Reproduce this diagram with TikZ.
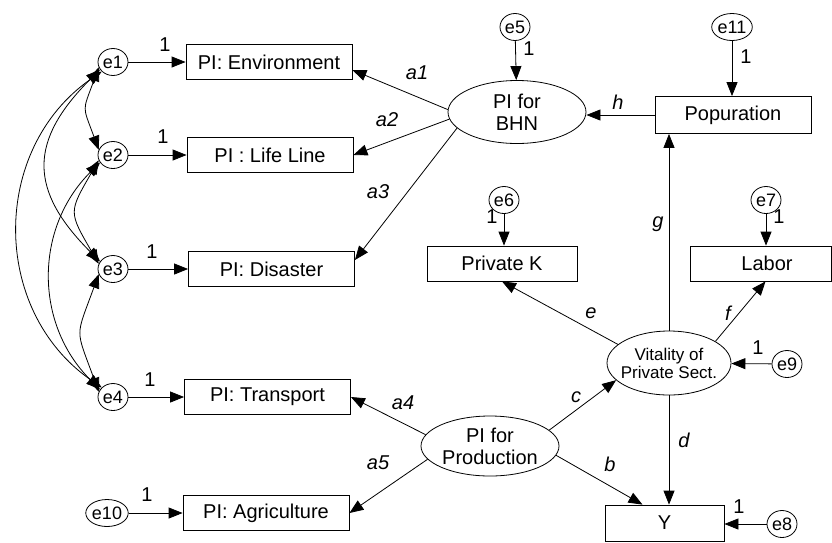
\documentclass[tikz,border=0pt]{standalone}
\usepackage{fontspec}
\setmainfont{Liberation Sans}
\usetikzlibrary{arrows.meta,calc,shapes.geometric}
\begin{document}
\begin{tikzpicture}[x=1pt,y=1pt,
  box/.style={draw, line width=0.8pt, minimum width=166pt, minimum height=35pt, inner sep=0pt, font=\fontsize{20}{22}\selectfont},
  lat/.style={draw, ellipse, line width=0.8pt, inner sep=0pt, align=center, font=\fontsize{20}{22}\selectfont},
  err/.style={draw, ellipse, line width=0.8pt, minimum width=30pt, minimum height=27pt, inner sep=0pt, font=\fontsize{18}{18}\selectfont},
  arr/.style={line width=0.8pt, -{Triangle[length=14pt,width=11pt]}},
  cov/.style={line width=0.8pt, {Triangle[length=14pt,width=11pt]}-{Triangle[length=14pt,width=11pt]}},
  one/.style={font=\fontsize{20}{20}\selectfont, inner sep=0pt},
  par/.style={font=\fontsize{20}{20}\selectfont\itshape, inner sep=0pt}
]
\useasboundingbox (0,0) rectangle (832,-542);

% observed boxes
\node[box] (env) at (269,-62) {PI: Environment};
\node[box] (life) at (270,-155) {PI : Life Line};
\node[box] (dis) at (271.5,-269) {PI: Disaster};
\node[box] (trans) at (267.5,-397) {PI: Transport};
\node[box] (agri) at (266,-513) {PI: Agriculture};
\node[box, minimum width=156pt, minimum height=37pt] (pop) at (733,-115) {Popuration};
\node[box, minimum width=150pt] (pk) at (502,-263.5) {Private K};
\node[box, minimum width=141pt] (labor) at (760.5,-263.5) {\hspace*{13pt}Labor};
\node[box, minimum width=119pt, minimum height=36pt] (y) at (664.5,-523) {Y};

% latent ellipses
\node[lat, minimum width=138pt, minimum height=63pt] (bhn) at (517,-112) {PI for\\BHN};
\node[lat, minimum width=124pt, minimum height=64pt, inner xsep=-7pt, font=\fontsize{17}{18}\selectfont] (vit) at (669,-363) {Vitality of\\Private Sect.};
\node[lat, minimum width=138pt, minimum height=60pt, inner xsep=-2pt] (prod) at (490,-446) {PI for\\Production};

% error terms
\node[err] (e1) at (113,-62) {e1};
\node[err] (e2) at (113,-155) {e2};
\node[err] (e3) at (113,-269) {e3};
\node[err] (e4) at (113,-397) {e4};
\node[err] (e10) at (107,-513) {e10};
\node[err] (e5) at (515,-27) {e5};
\node[err] (e11) at (732,-27) {e11};
\node[err] (e6) at (504,-200) {e6};
\node[err] (e7) at (766,-200) {e7};
\node[err] (e9) at (787,-364) {e9};
\node[err] (e8) at (782,-524) {e8};

% error arrows
\draw[arr] (e1) -- (env);
\draw[arr] (e2) -- (life);
\draw[arr] (e3) -- (dis);
\draw[arr] (e4) -- (trans);
\draw[arr] (e10) -- (agri);
\draw[arr] (e5) -- (bhn);
\draw[arr] (e11) -- (e11 |- pop.north);
\draw[arr] (e6) -- (e6 |- pk.north);
\draw[arr] (e7) -- (e7 |- labor.north);
\draw[arr] (e9) -- (vit);
\draw[arr] (e8) -- (e8 -| y.east);

% paths
\draw[arr] (pop.west) -- (pop.west -| bhn.east);
\draw[arr] (vit.north) -- (vit.north |- pop.south);
\draw[arr] (vit.south) -- (vit.south |- y.north);
\draw[arr] (prod.15) -- (vit.198);
\draw[arr] (prod.-8) -- ($(y.north)+(-22,0)$);
\draw[arr] (vit.160) -- (pk.south);
\draw[arr] (vit.25) -- ($(labor.south)+(5,0)$);
\draw[arr] (bhn.178) -- ($(env.east)+(0,-8)$);
\draw[arr] (bhn.186) -- (life.east);
\draw[arr] (bhn.195) -- ($(dis.east)+(0,9)$);
\draw[arr] (prod.170) -- (trans.east);
\draw[arr] (prod.192) -- (agri.east);

% covariances
\draw[cov] (e1.200) to[out=250,in=110,looseness=1.5] (e2.160);
\draw[cov] (e2.200) to[out=240,in=120,looseness=1.5] (e3.160);
\draw[cov] (e3.200) to[out=250,in=110,looseness=1.5] (e4.160);
\draw[cov] (e1.210) to[out=225,in=135,looseness=1.35] (e3.150);
\draw[cov] (e2.210) to[out=225,in=135,looseness=1.05] (e4.150);
\draw[cov] (e1.220) to[out=215,in=145,looseness=1.1] (e4.140);

% labels "1"
\node[one] (o1) at (165,-45) {1};
\node[one] (o2) at (163,-137) {1};
\node[one] (o3) at (152,-252) {1};
\node[one] (o4) at (150,-380) {1};
\node[one] (o10) at (147,-495) {1};
\node[one] (o5) at (529,-49) {1};
\node[one] (o11) at (746,-57) {1};
\node[one] (o6) at (492,-217) {1};
\node[one] (o7) at (779,-217) {1};
\node[one] (o9) at (758,-348) {1};
\node[one] (o8) at (739,-507) {1};

% path labels
\node[par] (la1) at (417,-73) {a1};
\node[par] (la2) at (387,-120) {a2};
\node[par] (la3) at (378,-192) {a3};
\node[par] (la4) at (403,-403) {a4};
\node[par] (la5) at (378,-463) {a5};
\node[par] (lh) at (618,-102) {h};
\node[par] (lg) at (658,-224) {g};
\node[par] (le) at (591,-313) {e};
\node[par] (lf) at (728,-313) {f};
\node[par] (lc) at (576,-397) {c};
\node[par] (ld) at (684,-440) {d};
\node[par] (lb) at (610,-464) {b};
\end{tikzpicture}
\end{document}
